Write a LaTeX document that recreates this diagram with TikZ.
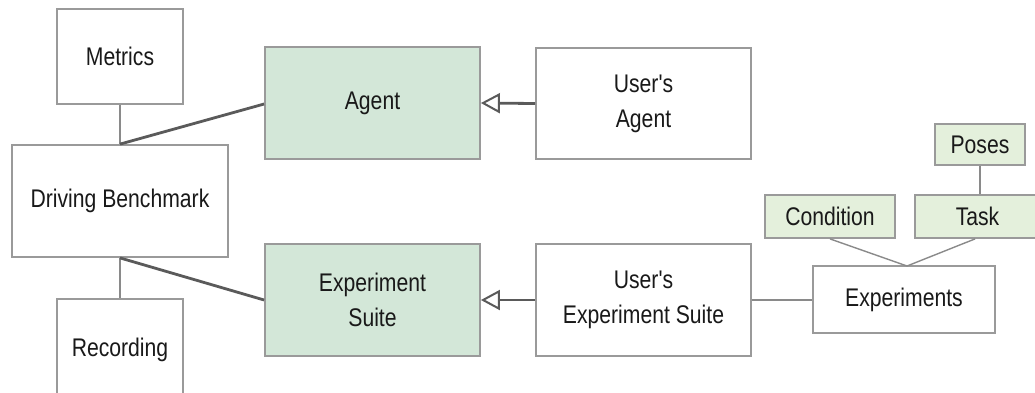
\documentclass[tikz,border=0pt]{standalone}
\usepackage{fontspec}
\setmainfont{Liberation Sans}
\newfontfamily\narrowsans[FakeStretch=0.83]{Liberation Sans}
\usetikzlibrary{arrows.meta}
\definecolor{boxline}{HTML}{9A9A9A}
\definecolor{suitegreen}{HTML}{D3E7D8}
\definecolor{itemgreen}{HTML}{E4F0DC}
\definecolor{linkgray}{HTML}{5A5A5A}
\definecolor{thingray}{HTML}{8A8A8A}
\tikzset{
  x=1pt, y=-1pt,
  blockbox/.style={draw=boxline, line width=1.8pt, fill=white, inner sep=0pt,
    text=black!90, align=center,
    font=\narrowsans\fontsize{25.5}{35}\selectfont},
  greenbox/.style={blockbox, fill=suitegreen},
  itembox/.style={blockbox, fill=itemgreen},
  thinlink/.style={draw=thingray, line width=1.4pt},
  thicklink/.style={draw=linkgray, line width=2.8pt},
  userarrow/.style={draw=linkgray, line width=2.8pt,
    -{Triangle[open, length=19pt, width=20pt, line width=2pt]}},
}
% box from top-left (x1,y1) to bottom-right (x2,y2), in pixel units
\newcommand{\blk}[7]{%
  \node[#1, minimum width={(#5)-(#3)}, minimum height={(#6)-(#4)}]
    (#2) at ({((#3)+(#5))/2},{((#4)+(#6))/2}) {#7};}
\begin{document}
\begin{tikzpicture}
\useasboundingbox (0,0) rectangle (1035,392);

% left column
\blk{blockbox}{metrics}{57}{9}{183}{104}{Metrics}
\blk{blockbox}{bench}{12}{145}{228}{257}{Driving Benchmark}
\blk{blockbox}{rec}{57}{299}{183}{400}{Recording}

% framework classes
\blk{greenbox}{agent}{265}{47}{480}{159}{Agent}
\blk{greenbox}{suite}{265}{244}{480}{356}{Experiment\\Suite}

% user classes
\blk{blockbox}{uagent}{536}{48}{751}{159}{User's\\Agent}
\blk{blockbox}{usuite}{536}{244}{751}{356}{User's\\Experiment Suite}

% experiment definition
\blk{blockbox}{exps}{813}{266}{995}{333}{Experiments}
\blk{itembox}{cond}{765}{195}{895}{238}{Condition}
\blk{itembox}{task}{915}{195}{1040}{238}{Task}
\blk{itembox}{poses}{935}{124}{1025}{165}{Poses}

% connectors
\draw[thinlink] (metrics.south) -- (bench.north);
\draw[thinlink] (bench.south) -- (rec.north);
\draw[thicklink] (bench.north) -- (agent.west |- 0,104);
\draw[thicklink] (bench.south) -- (suite.west |- 0,300);
\draw[userarrow] (uagent.west) -- (agent.east);
\draw[userarrow] (usuite.west) -- (suite.east);
\draw[thinlink] (usuite.east) -- (exps.west |- usuite.east);
\coordinate (join) at (907,266);
\draw[thinlink] (cond.south) -- (join);
\draw[thinlink] (task.south -| 975,0) -- (join);
\draw[thinlink] (poses.south -| 980,0) -- (task.north -| 980,0);
\end{tikzpicture}
\end{document}
